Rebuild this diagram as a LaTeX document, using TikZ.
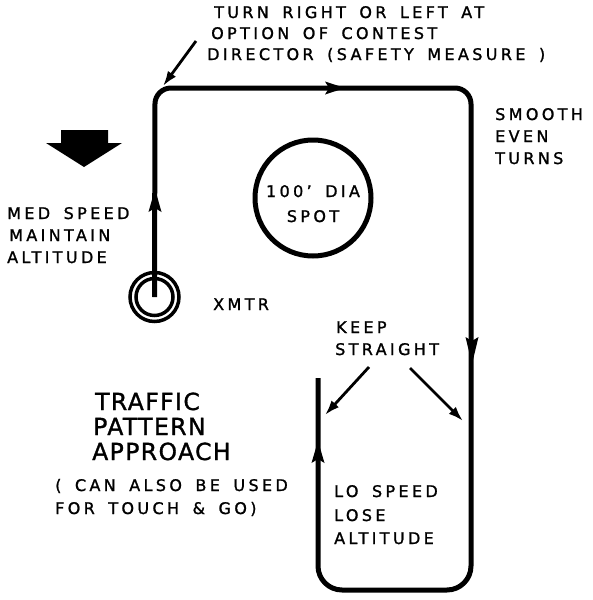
\documentclass[tikz,border=0pt]{standalone}
\usepackage{fontspec}
\usetikzlibrary{arrows.meta}
\newfontfamily\lblfont[LetterSpace=21, WordSpace=1.6, FakeBold=1.3]{DejaVu Sans}
\newfontfamily\bigfont[LetterSpace=6, FakeBold=1.3]{DejaVu Sans}
\begin{document}
\begin{tikzpicture}[x=1pt,y=-1pt,
  lbl/.style={anchor=base west, inner sep=0pt, font=\lblfont\fontsize{16}{19}\selectfont},
  lblc/.style={anchor=base, inner sep=0pt, font=\lblfont\fontsize{16}{19}\selectfont},
  big/.style={anchor=base west, inner sep=0pt, font=\bigfont\fontsize{23.5}{27}\selectfont},
  route/.style={line width=5pt, line join=round},
  pointer/.style={line width=2.8pt, -{Latex[length=15pt,width=10pt]}},
  ring/.style={circle, draw, inner sep=0pt, line width=3.5pt}]
\useasboundingbox (0,0) rectangle (593,600);

% transmitter
\node[ring, minimum size=49pt] (xmtr) at (154.5,297) {};
\node[ring, minimum size=37pt] (xmtrin) at (154.5,297) {};

% spot
\node[circle, draw, line width=5pt, minimum size=116pt, inner sep=0pt] (spot) at (313,198) {};
\node[lblc] (s1) at (313,197) {100’ DIA};
\node[lblc] (s2) at (313,222) {SPOT};

% flight path
\coordinate (tl) at (155,88);
\coordinate (tr) at (471,88);
\coordinate (br) at (471,590);
\coordinate (bl) at (318,590);
\coordinate (fin) at (318,378);
\draw[route, rounded corners=16pt] (xmtr.center) -- (tl) -- (tr) [rounded corners=24pt] -- (br) -- (bl) -- (fin);

% arrowheads on the path
\fill (345,88) -- (325,81.5) -- (329,88) -- (325,94.5) -- cycle;
\fill (155,189) -- (148.5,212) -- (155,208) -- (161.5,212) -- cycle;
\fill (472,364) -- (465.5,337) -- (472,341) -- (478.5,337) -- cycle;
\fill (318,441) -- (311.5,463) -- (318,459) -- (324.5,463) -- cycle;

% big direction arrow
\fill (61,130) -- (108,130) -- (108,143) -- (122,143) -- (84,167) -- (46,143) -- (61,143) -- cycle;

% labels
\node[lbl] (a1) at (214,18) {TURN RIGHT OR LEFT AT};
\node[lbl] (a2) at (211,39) {OPTION OF CONTEST};
\node[lbl] (a3) at (207,60) {DIRECTOR (SAFETY MEASURE )};
\coordinate (lead) at (196,41);
\draw[pointer] (lead) -- (163,86);

\node[lbl] (b1) at (495,120) {SMOOTH};
\node[lbl] (b2) at (495,142) {EVEN};
\node[lbl] (b3) at (495,164) {TURNS};

\node[lbl] (c1) at (7,219) {MED SPEED};
\node[lbl] (c2) at (9,241) {MAINTAIN};
\node[lbl] (c3) at (7,263) {ALTITUDE};

\node[lbl] (x1) at (213,310) {XMTR};

\node[lbl] (k1) at (336,333) {KEEP};
\node[lbl] (k2) at (335,355) {STRAIGHT};
\coordinate (kl) at (369,367);
\coordinate (kr) at (410,368);
\draw[pointer] (kl) -- (325,415);
\draw[pointer] (kr) -- (463,421);

\node[big] (t1) at (95,410) {TRAFFIC};
\node[big] (t2) at (93,435) {PATTERN};
\node[big] (t3) at (92,460) {APPROACH};

\node[lbl] (u1) at (55,491) {( CAN ALSO BE USED};
\node[lbl] (u2) at (55,514) {FOR TOUCH \& GO)};

\node[lbl] (l1) at (334,497) {LO SPEED};
\node[lbl] (l2) at (334,521) {LOSE};
\node[lbl] (l3) at (334,544) {ALTITUDE};
\end{tikzpicture}
\end{document}
